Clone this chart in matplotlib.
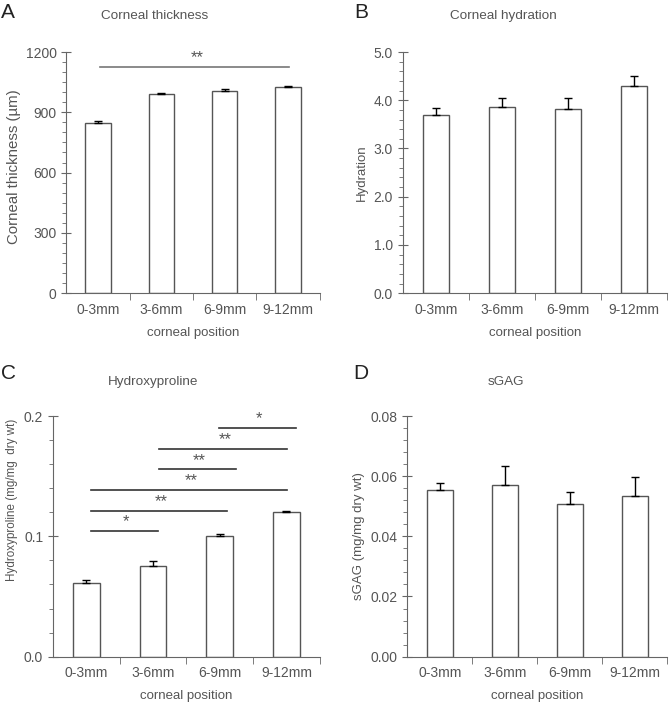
import matplotlib.pyplot as plt
from matplotlib.ticker import MultipleLocator, FixedLocator
import numpy as np

plt.rcParams['font.family'] = ['Liberation Sans', 'DejaVu Sans']

positions = ['0-3mm', '3-6mm', '6-9mm', '9-12mm']

thick = [848, 989, 1007, 1025]
thick_err = [8, 5, 7, 4]

hydr = [3.69, 3.86, 3.82, 4.29]
hydr_err = [0.15, 0.19, 0.22, 0.21]

hyp = [0.061, 0.0754, 0.100, 0.120]
hyp_err = [0.003, 0.0045, 0.0022, 0.0013]

sgag = [0.0556, 0.0571, 0.0509, 0.0536]
sgag_err = [0.0020, 0.0063, 0.0039, 0.0060]

# significance bars in C: start, end, height, label, label x
c_x0 = [0.07, 0.07, 0.07, 1.09, 1.09, 1.99]
c_x1 = [1.08, 2.11, 3.01, 2.24, 3.01, 3.14]
c_y = [0.1044, 0.121, 0.1388, 0.1557, 0.173, 0.190]
c_lab = ['*', '**', '**', '**', '**', '*']
c_tx = [0.6, 1.12, 1.58, 1.69, 2.08, 2.59]

gray = '#666666'
txt = '#555555'

fig = plt.figure(figsize=(6.69, 7.03), dpi=100)


def panel(rect, vals, errs, ymax, major, minor, fmt, ylabel, ylsize):
    ax = fig.add_axes(rect)
    x = np.arange(len(vals))
    ax.bar(x, vals, width=0.4, color='white', edgecolor='#555555', linewidth=1.0, zorder=2)
    ax.errorbar(x, vals, yerr=[np.zeros(len(errs)), errs], fmt='none',
                ecolor='black', elinewidth=1.0, capsize=3, capthick=1.0, zorder=3)
    ax.set_xlim(-0.5, 3.5)
    ax.set_ylim(0, ymax)
    for s in ['top', 'right']:
        ax.spines[s].set_visible(False)
    for s in ['left', 'bottom']:
        ax.spines[s].set_color(gray)
    ax.set_xticks(x)
    ax.set_xticklabels(positions)
    ax.xaxis.set_minor_locator(FixedLocator([0.5, 1.5, 2.5, 3.5]))
    ax.tick_params(axis='x', which='major', length=0, labelsize=10, labelcolor=txt, pad=7)
    ax.tick_params(axis='x', which='minor', length=5, color=gray, direction='out')
    ax.yaxis.set_major_locator(MultipleLocator(major))
    ax.yaxis.set_minor_locator(MultipleLocator(minor))
    ax.yaxis.set_major_formatter(fmt)
    ax.tick_params(axis='y', which='major', length=7, direction='inout', color=gray,
                   labelsize=10, labelcolor=txt)
    ax.tick_params(axis='y', which='minor', length=3, direction='out', color=gray)
    ax.set_xlabel('corneal position', fontsize=9.5, color=txt, labelpad=7)
    ax.set_ylabel(ylabel, fontsize=ylsize, color=txt)
    return ax


axA = panel([0.099, 0.583, 0.379, 0.343], thick, thick_err, 1200, 300, 50,
            lambda v, p: '%d' % v, 'Corneal thickness (µm)', 10.8)
axB = panel([0.602, 0.583, 0.395, 0.343], hydr, hydr_err, 5.0, 1.0, 0.2,
            lambda v, p: '%.1f' % v, 'Hydration', 9.5)
axC = panel([0.079, 0.066, 0.399, 0.342], hyp, hyp_err, 0.2, 0.1, 0.02,
            lambda v, p: '%.1f' % v, 'Hydroxyproline (mg/mg  dry wt)', 8.4)
axD = panel([0.609, 0.066, 0.388, 0.342], sgag, sgag_err, 0.08, 0.02, 0.004,
            lambda v, p: '%.2f' % v, 'sGAG (mg/mg dry wt)', 9.5)

axA.yaxis.labelpad = 3
axA.yaxis.label.set_y(0.523)
axC.yaxis.labelpad = 4
axC.yaxis.label.set_y(0.651)

# significance in A
axA.plot([0.04, 3.02], [1127, 1127], color='#777777', lw=1.2, clip_on=False)
axA.text(1.57, 1135, '**', ha='center', va='bottom', fontsize=12, color=txt)

# significance in C
for x0, x1, y, lab, tx in zip(c_x0, c_x1, c_y, c_lab, c_tx):
    axC.plot([x0, x1], [y, y], color='#333333', lw=1.2)
    axC.text(tx, y + 0.0015, lab, ha='center', va='bottom', fontsize=12, color=txt)

# titles and panel letters
fig.text(155 / 669, 1 - 16 / 703, 'Corneal thickness', ha='center', va='center', fontsize=9.7, color=txt)
fig.text(503 / 669, 1 - 16 / 703, 'Corneal hydration', ha='center', va='center', fontsize=9.7, color=txt)
fig.text(153 / 669, 1 - 382 / 703, 'Hydroxyproline', ha='center', va='center', fontsize=9.7, color=txt)
fig.text(506 / 669, 1 - 382 / 703, 'sGAG', ha='center', va='center', fontsize=9.7, color=txt)

for lx, ly, lab in [(1, 13, 'A'), (354, 13, 'B'), (1, 373, 'C'), (353, 373, 'D')]:
    fig.text(lx / 669, 1 - ly / 703, lab, ha='left', va='center', fontsize=15, color='#222222')

fig.savefig('out.png', dpi=100)
